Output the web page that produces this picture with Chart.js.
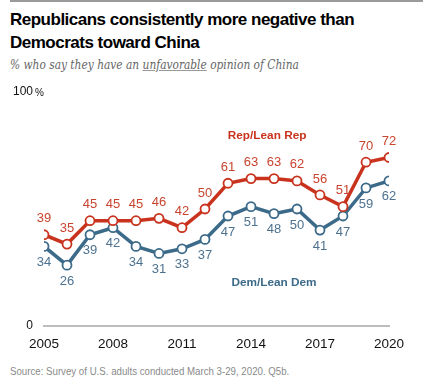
<!DOCTYPE html>
<html><head><meta charset="utf-8">
<script src="https://cdn.jsdelivr.net/npm/chart.js@4"></script>
<style>
html,body{margin:0;padding:0;background:#fff;width:431px;height:379px;overflow:hidden;}
#topline{position:absolute;left:10px;top:0;width:413px;height:2px;background:#9a9a9a;}
#title{position:absolute;left:10px;top:8px;font:bold 17px "Liberation Sans",Arial,sans-serif;line-height:23px;color:#000;letter-spacing:-0.5px;}
#sub{position:absolute;left:10px;top:57px;font:italic 12.5px "DejaVu Serif",Georgia,serif;color:#666;transform:scaleX(0.85);transform-origin:left top;white-space:nowrap;}
#sub u{text-decoration-color:#999;}
#src{position:absolute;left:10px;top:365px;font:11px "Liberation Sans",Arial,sans-serif;color:#8a8a8a;transform:scaleX(0.88);transform-origin:left top;white-space:nowrap;}
#wrap{position:absolute;left:0;top:80px;width:431px;height:280px;}
</style></head>
<body>
<div id="topline"></div>
<div id="title">Republicans consistently more negative than<br>Democrats toward China</div>
<div id="sub">% who say they have an <u>unfavorable</u> opinion of China</div>
<div id="wrap"><canvas id="c"></canvas></div>
<div id="src">Source: Survey of U.S. adults conducted March 3-29, 2020. Q5b.</div>
<script>
const years = [2005,2006,2007,2008,2009,2010,2011,2012,2013,2014,2015,2016,2017,2018,2019,2020];
const repValues = [39,35,45,45,45,46,42,50,61,63,63,62,56,51,70,72];
const demValues = [34,26,39,42,34,31,33,37,47,51,48,50,41,47,59,62];
const xTickLabels = [2005,2008,2011,2014,2017,2020];
const yTickLabels = [0,100];
const seriesNames = ['Rep/Lean Rep','Dem/Lean Dem'];
const seriesLabelAt = [[2014.7,81.2],[2015.0,18.4]];

const RED = '#c9331d', BLUE = '#3c6a89';
const LRED = '#c9442f', LBLUE = '#4d7290';

const labelPlugin = {
  id:'labels',
  afterDatasetsDraw(chart){
    const ctx = chart.ctx;
    ctx.save();
    ctx.font = '13px "Liberation Sans", Arial, sans-serif';
    ctx.textAlign = 'center';
    ctx.textBaseline = 'middle';
    chart.data.datasets.forEach((ds,i)=>{
      const meta = chart.getDatasetMeta(i);
      ctx.fillStyle = i===0 ? LRED : LBLUE;
      meta.data.forEach((pt,j)=>{
        const off = i===0 ? -16 : 16;
        ctx.fillText(String(ds.data[j].y), pt.x, pt.y+off);
      });
    });
    const xs = chart.scales.x, ys = chart.scales.y;
    ctx.font = 'bold 11.8px "Liberation Sans", Arial, sans-serif';
    seriesNames.forEach((n,i)=>{
      ctx.fillStyle = i===0 ? RED : BLUE;
      ctx.fillText(n, xs.getPixelForValue(seriesLabelAt[i][0]), ys.getPixelForValue(seriesLabelAt[i][1]));
    });
    ctx.fillStyle = '#111';
    ctx.textAlign = 'right';
    yTickLabels.forEach(v=>{
      const y = ys.getPixelForValue(v);
      ctx.font = '12px "Liberation Sans", Arial, sans-serif';
      ctx.fillText(String(v), 33, y);
      if (v===100){
        ctx.textAlign='left';
        ctx.font = '10px "Liberation Sans", Arial, sans-serif';
        ctx.fillText('%', 35, y+1);
        ctx.textAlign='right';
      }
    });
    ctx.restore();
  }
};

new Chart(document.getElementById('c'), {
  type:'line',
  data:{
    datasets:[
      {label:seriesNames[0], data:years.map((y,i)=>({x:y,y:repValues[i]})), borderColor:RED, backgroundColor:'#fff', borderWidth:3.5, pointRadius:4.5, pointBorderWidth:1.8, pointBackgroundColor:'#fff', pointBorderColor:RED, tension:0},
      {label:seriesNames[1], data:years.map((y,i)=>({x:y,y:demValues[i]})), borderColor:BLUE, backgroundColor:'#fff', borderWidth:3.5, pointRadius:4.5, pointBorderWidth:1.8, pointBackgroundColor:'#fff', pointBorderColor:BLUE, tension:0}
    ]
  },
  options:{
    responsive:true, maintainAspectRatio:false, animation:false,
    layout:{padding:{top:12,right:42,left:0,bottom:0}},
    plugins:{legend:{display:false},tooltip:{enabled:false}},
    scales:{
      x:{type:'linear', min:2005, max:2020,
        afterBuildTicks(s){ s.ticks = xTickLabels.map(v=>({value:v})); },
        afterFit(s){ s.height = 34; },
        grid:{display:false, drawTicks:false},
        border:{display:true, color:'#bdbdbd', width:2},
        ticks:{color:'#111', padding:10, font:{size:13.5, family:'"Liberation Sans", Arial, sans-serif'}, callback:v=>String(v), maxRotation:0, autoSkip:false}
      },
      y:{min:0, max:100,
        afterBuildTicks(s){ s.ticks = yTickLabels.map(v=>({value:v})); },
        afterFit(s){ s.width = 44; },
        grid:{display:false, drawTicks:false},
        border:{display:false},
        ticks:{display:false}
      }
    }
  },
  plugins:[labelPlugin]
});
</script>
</body></html>
